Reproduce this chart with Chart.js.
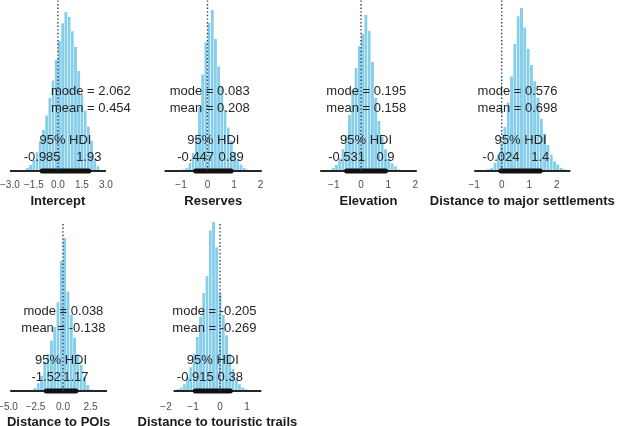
<!DOCTYPE html>
<html><head><meta charset="utf-8">
<script src="https://cdn.jsdelivr.net/npm/chart.js@4"></script>
<style>
html,body{margin:0;padding:0;background:#fff;width:617px;height:426px;overflow:hidden;position:relative}
canvas{position:absolute}
</style></head><body>
<script>
// ---- data ----
const panelTitles = ['Intercept','Reserves','Elevation','Distance to major settlements','Distance to POIs','Distance to touristic trails'];
const modeLabels = ['2.062','0.083','0.195','0.576','0.038','-0.205'];
const meanLabels = ['0.454','0.208','0.158','0.698','-0.138','-0.269'];
const hdiLowLabels = ['-0.985','-0.447','-0.531','-0.024','-1.52','-0.915'];
const hdiHighLabels = ['1.93','0.89','0.9','1.4','1.17','0.38'];
const tickValues = [[-3,-1.5,0,1.5,3],[-1,0,1,2],[-1,0,1,2],[-1,0,1,2],[-5,-2.5,0,2.5],[-2,-1,0,1]];
const tickLabels = [['−3.0','−1.5','0.0','1.5','3.0'],['−1','0','1','2'],['−1','0','1','2'],['−1','0','1','2'],['−5.0','−2.5','0.0','2.5'],['−2','−1','0','1']];
const baselineRanges = [[-3,3],[-1.62,2.05],[-1.5,2.05],[-1.0,2.5],[-4.8,4.0],[-1.72,1.53]];
const referenceValue = 0;

const binsIntercept = [-1.9,-1.7,-1.5,-1.3,-1.1,-0.9,-0.7,-0.5,-0.3,-0.1,0.1,0.3,0.5,0.7,0.9,1.1,1.3,1.5,1.7,1.9,2.1,2.3,2.5];
const countsIntercept = [0.02,0.04,0.07,0.12,0.19,0.26,0.35,0.46,0.57,0.70,0.82,0.93,1.0,0.97,0.88,0.78,0.63,0.48,0.38,0.28,0.19,0.08,0.03];
const binsReserves = [-0.90,-0.78,-0.66,-0.54,-0.42,-0.30,-0.18,-0.06,0.06,0.18,0.30,0.42,0.54,0.66,0.78,0.90,1.02,1.14,1.26,1.38,1.50];
const countsReserves = [0.01,0.02,0.05,0.11,0.21,0.40,0.60,0.80,0.92,1.0,0.82,0.65,0.52,0.38,0.27,0.19,0.12,0.07,0.04,0.02,0.01];
const binsElevation = [-1.02,-0.90,-0.78,-0.66,-0.54,-0.42,-0.30,-0.18,-0.06,0.06,0.18,0.30,0.42,0.54,0.66,0.78,0.90,1.02,1.14,1.26,1.38];
const countsElevation = [0.02,0.04,0.08,0.14,0.23,0.36,0.52,0.66,0.80,0.88,1.0,0.90,0.70,0.47,0.32,0.22,0.14,0.08,0.05,0.03,0.01];
const binsSettlements = [-0.48,-0.36,-0.24,-0.12,0.00,0.12,0.24,0.36,0.48,0.60,0.72,0.84,0.96,1.08,1.20,1.32,1.44,1.56,1.68,1.80,1.92,2.04,2.16,2.28];
const countsSettlements = [0.01,0.02,0.05,0.10,0.17,0.27,0.42,0.58,0.78,0.95,1.0,0.88,0.75,0.65,0.55,0.45,0.32,0.23,0.16,0.10,0.06,0.04,0.02,0.01];
const binsPOIs = [-2.55,-2.25,-1.95,-1.65,-1.35,-1.05,-0.75,-0.45,-0.15,0.15,0.45,0.75,1.05,1.35,1.65,1.95,2.25,2.55];
const countsPOIs = [0.02,0.05,0.10,0.19,0.24,0.33,0.42,0.58,0.85,1.0,0.65,0.50,0.35,0.24,0.17,0.09,0.04,0.01];
const binsTrails = [-1.56,-1.44,-1.32,-1.20,-1.08,-0.96,-0.84,-0.72,-0.60,-0.48,-0.36,-0.24,-0.12,0.00,0.12,0.24,0.36,0.48,0.60,0.72,0.84,0.96];
const countsTrails = [0.01,0.02,0.04,0.08,0.14,0.22,0.32,0.44,0.58,0.68,0.95,1.0,0.85,0.58,0.45,0.33,0.22,0.13,0.07,0.04,0.02,0.01];

const binCenters = [binsIntercept,binsReserves,binsElevation,binsSettlements,binsPOIs,binsTrails];
const binCounts = [countsIntercept,countsReserves,countsElevation,countsSettlements,countsPOIs,countsTrails];

// ---- layout (pixel placement of each panel) ----
const zeroX   = [57.9, 207.5, 361, 501.7, 63, 220];
const pxUnit  = [16.0, 26.5, 27.2, 27.5, 11, 27];
const xRange  = [[-3.5,3.5],[-1.9,2.3],[-1.8,2.3],[-1.3,2.8],[-5.5,4.5],[-2.2,1.8]];
const panelRow = [0,0,0,0,1,1];
const yTop    = [1.076, 1.0625, 1.097, 1.049, 1.105, 1.0];
const MARGIN = 40, CW = 617 + 2*MARGIN;
const rows = [
  {top:0,   height:212, padTop:0, tickPad:8,  padBottom:13, titleOffset:30},
  {top:215, height:215, padTop:7, tickPad:10, padBottom:7,  titleOffset:31}
];
const textOffsets = [-80, -62.5, -31, -14];
const FONT = '"Liberation Sans", Arial, Helvetica, sans-serif';

const annot = {
  id:'annot',
  afterDraw(chart){
    const i = chart.options.plugins.annot.idx;
    const r = rows[panelRow[i]];
    const ctx = chart.ctx, xs = chart.scales.x, ys = chart.scales.y;
    const base = ys.getPixelForValue(0);
    const mode = parseFloat(modeLabels[i]);
    const lo = parseFloat(hdiLowLabels[i]), hi = parseFloat(hdiHighLabels[i]);
    ctx.save();
    ctx.fillStyle = '#262626';
    ctx.font = '13px ' + FONT;
    ctx.textAlign = 'center';
    ctx.textBaseline = 'middle';
    const mx = xs.getPixelForValue(mode);
    ctx.fillText('mode = ' + modeLabels[i], mx, base + textOffsets[0]);
    ctx.fillText('mean = ' + meanLabels[i], mx, base + textOffsets[1]);
    ctx.fillText('95% HDI', xs.getPixelForValue((lo+hi)/2), base + textOffsets[2]);
    ctx.fillText(hdiLowLabels[i], xs.getPixelForValue(lo), base + textOffsets[3]);
    ctx.fillText(hdiHighLabels[i], xs.getPixelForValue(hi), base + textOffsets[3]);
    // panel title, centred under the baseline segment
    const b = baselineRanges[i];
    ctx.fillStyle = '#1a1a1a';
    ctx.font = 'bold 13px ' + FONT;
    ctx.fillText(panelTitles[i], (xs.getPixelForValue(b[0]) + xs.getPixelForValue(b[1]))/2, base + r.titleOffset);
    ctx.restore();
  }
};

for (let i = 0; i < 6; i++) {
  const r = rows[panelRow[i]];
  const cv = document.createElement('canvas');
  cv.width = CW; cv.height = r.height;
  cv.style.top = r.top + 'px';
  cv.style.left = (-MARGIN) + 'px';
  document.body.appendChild(cv);
  const areaL = MARGIN + zeroX[i] + xRange[i][0]*pxUnit[i];
  const areaR = MARGIN + zeroX[i] + xRange[i][1]*pxUnit[i];
  const lo = parseFloat(hdiLowLabels[i]), hi = parseFloat(hdiHighLabels[i]);
  new Chart(cv, {
    type:'bar',
    data:{
      datasets:[
        {type:'line', data:[{x:referenceValue,y:0},{x:referenceValue,y:yTop[i]}], borderColor:'#2c3a66', borderWidth:1.4, borderDash:[1.4,2.2], pointRadius:0, order:0, clip:false},
        {type:'line', data:[{x:lo,y:0},{x:hi,y:0}], borderColor:'#111', borderWidth:5, borderCapStyle:'round', pointRadius:0, order:1, clip:false},
        {type:'line', data:[{x:baselineRanges[i][0],y:0},{x:baselineRanges[i][1],y:0}], borderColor:'#262626', borderWidth:2, pointRadius:0, order:2, clip:false},
        {type:'bar', data:binCenters[i].map((c,j)=>({x:c,y:binCounts[i][j]})), backgroundColor:'#87CEEB', borderColor:'#ffffff', borderWidth:{left:0.5,right:0.5,top:0,bottom:0}, borderSkipped:false, barPercentage:1, categoryPercentage:1, order:3}
      ]
    },
    options:{
      responsive:false, animation:false, devicePixelRatio:1,
      layout:{autoPadding:false, padding:{left:areaL, right:CW-areaR, top:r.padTop, bottom:r.padBottom}},
      plugins:{legend:{display:false}, tooltip:{enabled:false}, annot:{idx:i}},
      scales:{
        x:{type:'linear', min:xRange[i][0], max:xRange[i][1], offset:false,
           grid:{display:false, drawTicks:false}, border:{display:false},
           afterBuildTicks:(s)=>{ s.ticks = tickValues[i].map(v=>({value:v})); },
           ticks:{autoSkip:false, maxRotation:0, padding:r.tickPad, color:'#4d4d4d',
                  font:{family:FONT, size:10},
                  callback:(v)=>{ const k = tickValues[i].indexOf(v); return k>=0 ? tickLabels[i][k] : ''; }}
        },
        y:{display:false, min:0, max:yTop[i]}
      }
    },
    plugins:[annot]
  });
}
</script>
</body></html>
